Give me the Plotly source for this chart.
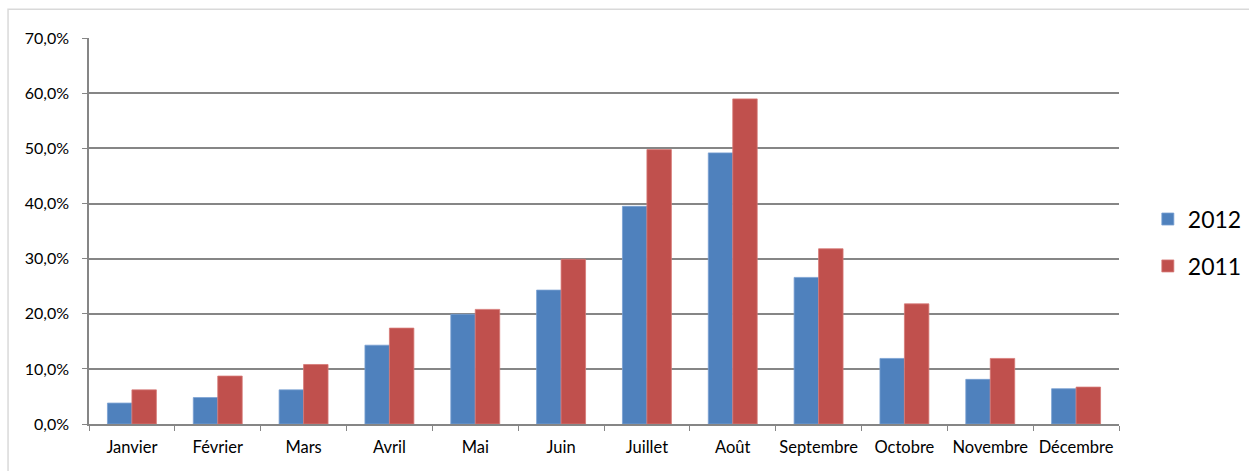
import plotly.graph_objs as go

BLUE = 'rgba( 79, 129, 189, 1.0)'
RED = 'rgba(192,  80,  77, 1.0)'
GRID = 'rgba(134, 134, 134, 1.0)'
FRAME = 'rgba(217, 217, 217, 1.0)'
TEXT = 'rgba(  0,   0,   0, 1.0)'

FONT = 'Lato, Calibri, sans-serif'

# months (x categories)
mois = ['Janvier', 'Février', 'Mars', 'Avril', 'Mai', 'Juin',
        'Juillet', 'Août', 'Septembre', 'Octobre', 'Novembre', 'Décembre']

# share per month (fraction, 0.1 = 10%)
serie_2012 = [0.038, 0.048, 0.062, 0.143, 0.199, 0.243,
              0.395, 0.492, 0.266, 0.119, 0.081, 0.064]
serie_2011 = [0.062, 0.087, 0.108, 0.174, 0.208, 0.299,
              0.498, 0.590, 0.318, 0.218, 0.119, 0.067]

y_ticks = [0.0, 0.1, 0.2, 0.3, 0.4, 0.5, 0.6, 0.7]

fig = go.Figure()

# one legendgroup per series so tracegroupgap spreads the legend entries
fig.add_trace(go.Bar(x=mois, y=serie_2012, name='2012', legendgroup='a',
                     marker=dict(color=BLUE, line=dict(color='rgba(120,160,210,1.0)', width=0.8))))
fig.add_trace(go.Bar(x=mois, y=serie_2011, name='2011', legendgroup='b',
                     marker=dict(color=RED, line=dict(color='rgba(215,120,118,1.0)', width=0.8))))

fig.update_layout(
    width=1249, height=471,
    margin=dict(l=89, r=130, t=38, b=47, autoexpand=False),
    paper_bgcolor='white', plot_bgcolor='white',
    separators=', ',
    barmode='group', bargap=0.43, bargroupgap=0.0,
    font=dict(family=FONT, size=16, color=TEXT),
    legend=dict(x=1.028, y=0.47, xanchor='left', yanchor='middle',
                font=dict(size=23), traceorder='grouped', tracegroupgap=14,
                bgcolor='rgba(0,0,0,0)'),
    xaxis=dict(type='category', showgrid=False, showline=True, linecolor=GRID, linewidth=1.5,
               ticks='outside', tickson='boundaries', ticklen=5, tickcolor=GRID,
               tickangle=0, ticklabelstandoff=7, tickfont=dict(size=16.5), automargin=False),
    yaxis=dict(range=[0, 0.7005], tickvals=y_ticks, tickformat='.1%', showgrid=True,
               gridcolor=GRID, gridwidth=1.5, showline=True, linecolor=GRID, linewidth=1.5,
               ticks='outside', ticklen=5, tickcolor=GRID, ticklabelstandoff=10,
               tickfont=dict(size=16), zeroline=False, automargin=False),
)

# light frame around the whole chart
fig.add_shape(type='rect', xref='paper', yref='paper',
              x0=-0.0786, x1=1.2, y0=-0.3, y1=1.0745,
              line=dict(color=FRAME, width=1.5), fillcolor='rgba(0,0,0,0)', layer='below')

# drop the browser's default body margin so the figure sits at (0, 0)
fig.write_html("out.html", config={'displayModeBar': False},
               post_script="document.body.style.margin='0';")
